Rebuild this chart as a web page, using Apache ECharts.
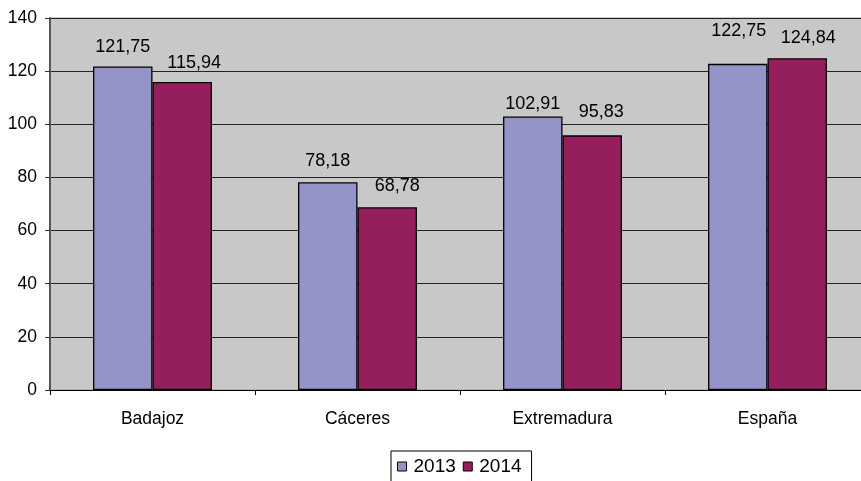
<!DOCTYPE html>
<html><head><meta charset="utf-8">
<script src="https://cdn.jsdelivr.net/npm/echarts@6/dist/echarts.min.js"></script>
<style>html,body{margin:0;padding:0;background:#fff;overflow:hidden}#c{width:880px;height:481px}</style>
</head><body><div id="c"></div>
<script>
const categories = ['Badajoz', 'Cáceres', 'Extremadura', 'España'];
const series2013 = [121.75, 78.18, 102.91, 122.75];
const series2014 = [115.94, 68.78, 95.83, 124.84];
const yTicks = [0, 20, 40, 60, 80, 100, 120, 140];

// label nudges (layout only)
const off2013 = [[0, -5], [0, -7], [0, 1], [1, -19]];
const off2014 = [[12, -5], [10, -7], [9, -9], [11, -6]];

const FONT = '"Liberation Sans", Arial, sans-serif';
const fmt = v => v.toFixed(2).replace('.', ',');

function mk(name, vals, color, offs) {
  return {
    name, type: 'bar', data: vals.map((v, i) => ({ value: v, label: { offset: offs[i] } })),
    barGap: '0%', barCategoryGap: '42%',
    itemStyle: { color, borderColor: '#000', borderWidth: 1.3 },
    label: { show: true, position: 'top', distance: 5, color: '#000', fontSize: 18, fontFamily: FONT,
      formatter: p => fmt(p.value) }
  };
}

const chart = echarts.init(document.getElementById('c'), null, { renderer: 'canvas' });
chart.setOption({
  animation: false,
  backgroundColor: '#fff',
  grid: { left: 50, top: 18, right: 10, bottom: 91, show: true, backgroundColor: '#C8C8C8', borderColor: '#999', borderWidth: 1 },
  legend: {
    data: ['2013', '2014'], top: 451, left: 391, orient: 'horizontal',
    itemWidth: 9, itemHeight: 9, itemGap: 7, icon: 'rect',
    padding: [6, 10, 10, 6], borderColor: '#000', borderWidth: 1,
    textStyle: { fontSize: 19, fontFamily: FONT, color: '#000', padding: [0, 0, 0, 2] },
    itemStyle: { borderColor: '#000', borderWidth: 1 }
  },
  xAxis: {
    type: 'category', data: categories,
    axisLine: { lineStyle: { color: '#000', width: 1 } },
    axisTick: { show: true, length: 5, inside: false, lineStyle: { color: '#000' } },
    axisLabel: { fontSize: 17.5, fontFamily: FONT, color: '#000', margin: 20 }
  },
  yAxis: {
    type: 'value', min: yTicks[0], max: yTicks[yTicks.length - 1], interval: 20,
    axisLine: { show: true, lineStyle: { color: '#555', width: 2 } },
    axisTick: { show: true, length: 5, lineStyle: { color: '#333' } },
    axisLabel: { fontSize: 17.5, fontFamily: FONT, color: '#000', margin: 13 },
    splitLine: { show: true, lineStyle: { color: '#222', width: 1 } }
  },
  series: [
    mk('2013', series2013, '#9494C9', off2013),
    mk('2014', series2014, '#951F5D', off2014)
  ]
});
</script></body></html>
